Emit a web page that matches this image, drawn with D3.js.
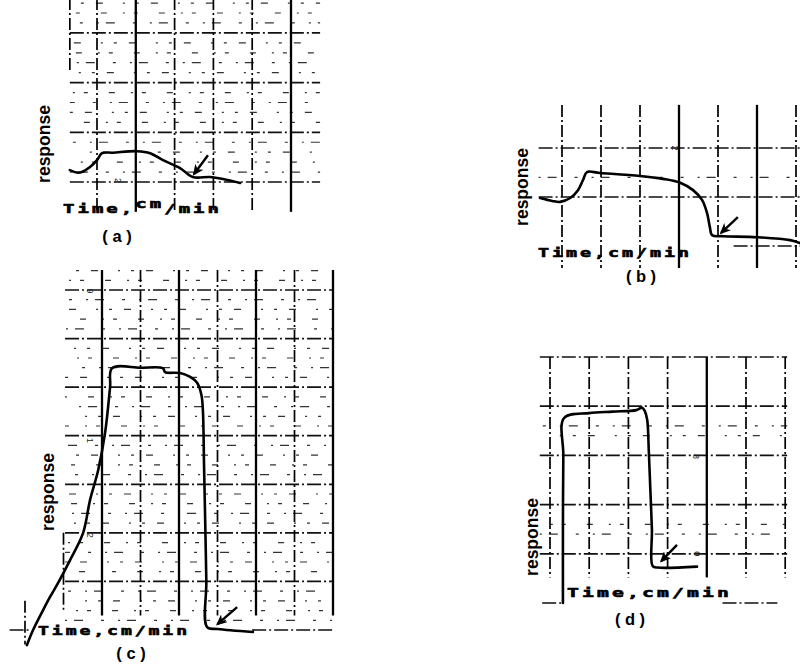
<!DOCTYPE html>
<html>
<head>
<meta charset="utf-8">
<script src="https://cdn.jsdelivr.net/npm/d3@7"></script>
<style>
  body { margin: 0; background: #fff; }
  svg { display: block; }
  .ylab { font-family: "Liberation Sans", Arial, sans-serif; font-weight: bold; font-size: 17.5px; }
  .xlab { font-family: "DejaVu Sans Mono", monospace; font-weight: bold; font-size: 12.5px; letter-spacing: 2px;
          stroke: #000; stroke-width: 0.6px; }
  .plab { font-family: "Liberation Sans", Arial, sans-serif; font-weight: bold; font-size: 16.5px; }
  .mark { font-family: "Liberation Sans", Arial, sans-serif; font-size: 9px; fill: #222; }
</style>
</head>
<body>
<svg id="chart"></svg>
<script>
// labels
const panelLabels = ["( a )", "( b )", "( c )", "( d )"];
const yLabel = "response";
const xLabelTime = "Time,";
const xLabelUnit = "cm/min";

// recorder traces, in chart-paper divisions: [time, response]
const traceA = [[-0.70,0.24],[-0.52,0.19],[-0.39,0.20],[-0.18,0.30],[0,0.44],[0.13,0.58],[0.41,0.59],
  [1.03,0.62],[1.37,0.58],[1.70,0.44],[2.14,0.28],[2.47,0.10],[2.91,0.10],[3.25,0.06],[3.69,-0.02]];
const traceB = [[-0.56,0.98],[-0.25,0.92],[-0.05,0.90],[0.21,0.98],[0.41,1.14],[0.54,1.35],[0.64,1.51],
  [0.97,1.49],[2.0,1.43],[2.59,1.37],[3.03,1.29],[3.36,1.14],[3.59,0.94],[3.72,0.67],[3.79,0.39],
  [3.85,0.22],[4.13,0.20],[5.0,0.18],[5.85,0.12],[6.1,0.06]];
const traceC = [[-1.95,-0.31],[-1.79,0],[-1.53,0.41],[-1.35,0.68],[-1.14,0.97],[-0.83,1.44],[-0.49,2.0],
  [-0.31,2.68],[-0.10,3.29],[0.08,4.06],[0.21,5.0],[0.26,5.39],[1.0,5.40],[1.58,5.39],[1.64,5.31],
  [2.03,5.29],[2.29,5.21],[2.47,5.09],[2.58,4.85],[2.62,4.53],[2.65,3.4],[2.68,2.26],[2.71,1.0],
  [2.73,0.06],[3.0,0.02],[3.92,-0.04]];
const traceD = [[0.33,0.0],[0.33,1.5],[0.34,3.0],[0.36,3.76],[1.0,3.86],[1.6,3.89],[2.2,3.92],
  [2.35,3.97],[2.42,3.9],[2.48,3.72],[2.52,3.1],[2.56,2.3],[2.60,1.5],[2.62,0.75],[2.75,0.72],[3.75,0.74]];

// arrows pointing at the trace: [from, to]
const arrowA = [[2.86,0.54],[2.50,0.16]];
const arrowB = [[4.51,0.59],[4.08,0.27]];
const arrowC = [[3.51,0.47],[3.00,0.12]];
const arrowD = [[3.24,1.18],[2.84,0.85]];

// grid divisions
const vGridA = [0,1,2,3,4,5];
const hGridA = [0,1,2,3];
const vGridB = [0,1,2,3,4,5,6];
const hGridB = [1,2];
const vGridC = [0,1,2,3,4,5,6];
const hGridC = [1,2,3,4,5,6,7];
const vGridD = [0,1,2,3,4,5,6];
const hGridD = [1,2,3,4,5];

// broken rulings at the paper edges: [response, from time, to time]
const hPartA = [];
const hPartB = [[0,4.4,6.2]];
const hPartC = [[0,-2.4,-1.9],[0,3.9,6]];
const hPartD = [[0,-0.2,0.3],[0,4.4,5.8]];
// [time, from response, to response]
const vPartA = [[-0.7,2.25,3.7]];
const vPartB = [];
const vPartC = [[-1.0,0.4,2.0],[-2.0,-0.3,0.6]];
const vPartD = [];

// small printed chart numbers: [time, response, text]
const marksA = [[0.55,0.03,"2"]];
const marksB = [[2.9,2.0,"2"]];
const marksC = [[-0.3,6.98,"9"],[-0.3,3.9,"1"],[-0.3,1.95,"2"]];
const marksD = [[3.72,2.98,"8"],[3.76,1.0,"0"]];

// page layout of each strip (pixel origin & division size)
const layout = [
  { trace: traceA, arrow: arrowA, vGrid: vGridA, hGrid: hGridA, marks: marksA, hPart: hPartA, vPart: vPartA,
    x0: 97, dx: 38.8, y0: 182, dy: 49.7, top: 3.7, bottom: -0.6, left: -0.7, right: 5.75,
    solid: [1,5], minor: [[0.2,0.8],[1.2,1.8],[2.2,3.6]],
    ylab: [44,144], xlab: [63,213,159], plab: [117,242] },
  { trace: traceB, arrow: arrowB, vGrid: vGridB, hGrid: hGridB, marks: marksB, hPart: hPartB, vPart: vPartB,
    x0: 562, dx: 39, y0: 246, dy: 49, top: 2.88, bottom: -0.45, left: -0.6, right: 6.2,
    solid: [3,5], minor: [[1.4,1.4]],
    ylab: [522,187], xlab: [538,257,154], plab: [641,282] },
  { trace: traceC, arrow: arrowC, vGrid: vGridC, hGrid: hGridC, marks: marksC, hPart: hPartC, vPart: vPartC,
    x0: 102, dx: 38.5, y0: 630, dy: 48.57, top: 7.41, bottom: 0.3, left: -0.96, right: 6,
    solid: [0,2,4,6], minor: [[0.2,7.4]],
    ylab: [48,492], xlab: [38,635,152], plab: [131,659] },
  { trace: traceD, arrow: arrowD, vGrid: vGridD, hGrid: hGridD, marks: marksD, hPart: hPartD, vPart: vPartD,
    x0: 550, dx: 39.2, y0: 603, dy: 49.2, top: 5, bottom: 0.52, left: -0.26, right: 6.05,
    solid: [4], minor: [[1.4,1.6],[3.4,3.6]],
    ylab: [532,537], xlab: [567,597,165], plab: [630,625] }
];

const width = 800, height = 665;
const svg = d3.select("#chart").attr("width", width).attr("height", height);
svg.append("rect").attr("width", width).attr("height", height).attr("fill", "#fff");

const defs = svg.append("defs");
defs.append("marker")
  .attr("id", "head")
  .attr("markerUnits", "userSpaceOnUse")
  .attr("markerWidth", 12).attr("markerHeight", 10)
  .attr("refX", 9).attr("refY", 5)
  .attr("orient", "auto")
  .append("path")
  .attr("d", "M0,0 L11,5 L0,10 L3,5 z")
  .attr("fill", "#000");

const minorDash = ["2,7,9,18,3,14", "6,16,2,9,4,21", "3,12,7,20,2,11"];

layout.forEach((p, i) => {
  const x = d3.scaleLinear().domain([0, 1]).range([p.x0, p.x0 + p.dx]);
  const y = d3.scaleLinear().domain([0, 1]).range([p.y0, p.y0 - p.dy]);
  const g = svg.append("g");

  // minor rulings (faint, broken)
  const minor = p.minor.flatMap(r => d3.range(r[0], r[1] + 0.001, 0.2))
    .filter(v => Math.abs(v - Math.round(v)) > 0.05);
  g.selectAll(".minor").data(minor).enter().append("line")
    .attr("x1", x(p.left)).attr("x2", x(p.right))
    .attr("y1", d => y(d)).attr("y2", d => y(d))
    .attr("stroke", "#333").attr("stroke-width", 1.2)
    .attr("stroke-dasharray", (d, j) => minorDash[j % 3])
    .attr("stroke-dashoffset", (d, j) => j * 11);

  // major horizontal rulings (dash-dot)
  g.selectAll(".hgrid").data(p.hGrid).enter().append("line")
    .attr("x1", x(p.left)).attr("x2", x(p.right))
    .attr("y1", d => y(d)).attr("y2", d => y(d))
    .attr("stroke", "#111").attr("stroke-width", 1.7)
    .attr("stroke-dasharray", "14,3,2,3");

  g.selectAll(".hpart").data(p.hPart).enter().append("line")
    .attr("x1", d => x(d[1])).attr("x2", d => x(d[2]))
    .attr("y1", d => y(d[0])).attr("y2", d => y(d[0]))
    .attr("stroke", "#111").attr("stroke-width", 1.7)
    .attr("stroke-dasharray", "14,3,2,3");

  // vertical rulings
  g.selectAll(".vgrid").data(p.vGrid).enter().append("line")
    .attr("x1", d => x(d)).attr("x2", d => x(d))
    .attr("y1", y(p.top)).attr("y2", y(p.bottom))
    .attr("stroke", "#000")
    .attr("stroke-width", d => p.solid.includes(d) ? 2.3 : 1.7)
    .attr("stroke-dasharray", d => p.solid.includes(d) ? null : "12,3,2,3");

  g.selectAll(".vpart").data(p.vPart).enter().append("line")
    .attr("x1", d => x(d[0])).attr("x2", d => x(d[0]))
    .attr("y1", d => y(d[2])).attr("y2", d => y(d[1]))
    .attr("stroke", "#000").attr("stroke-width", 1.7)
    .attr("stroke-dasharray", "12,3,2,3");

  // printed chart numbers
  g.selectAll(".mark").data(p.marks).enter().append("text")
    .attr("class", "mark")
    .attr("transform", d => `translate(${x(d[0])},${y(d[1])}) rotate(90)`)
    .attr("text-anchor", "middle").attr("dominant-baseline", "central")
    .text(d => d[2]);

  // response trace
  const line = d3.line()
    .x(d => x(d[0])).y(d => y(d[1]))
    .curve(d3.curveCatmullRom.alpha(0.5));
  g.append("path")
    .datum(p.trace)
    .attr("d", line)
    .attr("fill", "none")
    .attr("stroke", "#000")
    .attr("stroke-width", 2.6)
    .attr("stroke-linejoin", "round")
    .attr("stroke-linecap", "round");

  // arrow
  g.append("line")
    .attr("x1", x(p.arrow[0][0])).attr("y1", y(p.arrow[0][1]))
    .attr("x2", x(p.arrow[1][0])).attr("y2", y(p.arrow[1][1]))
    .attr("stroke", "#000").attr("stroke-width", 2.4)
    .attr("marker-end", "url(#head)");

  // axis labels
  g.append("text")
    .attr("class", "ylab")
    .attr("transform", `translate(${p.ylab[0]},${p.ylab[1]}) rotate(-90)`)
    .attr("text-anchor", "middle").attr("dominant-baseline", "central")
    .text(yLabel);

  const xt = g.append("text")
    .attr("class", "xlab")
    .attr("x", p.xlab[0]).attr("y", p.xlab[1])
    .attr("textLength", p.xlab[2]).attr("lengthAdjust", "spacingAndGlyphs");
  xt.append("tspan").text(xLabelTime);
  xt.append("tspan").attr("dy", i === 0 ? -5 : 0).text(xLabelUnit.slice(0, 2));
  xt.append("tspan").attr("dy", i === 0 ? 5 : 0).text(xLabelUnit.slice(2));

  g.append("text")
    .attr("class", "plab")
    .attr("x", p.plab[0]).attr("y", p.plab[1])
    .attr("text-anchor", "middle")
    .attr("xml:space", "preserve")
    .text(panelLabels[i]);
});
</script>
</body>
</html>
